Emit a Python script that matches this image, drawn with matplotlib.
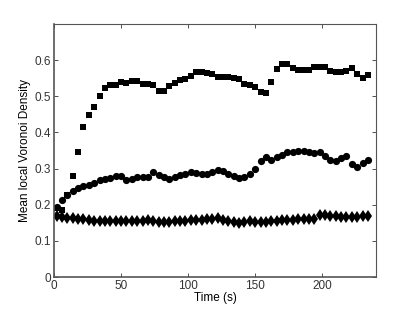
import numpy as np
import matplotlib
matplotlib.use("Agg")
import matplotlib.pyplot as plt

plt.rcParams['font.family'] = ['Liberation Sans', 'DejaVu Sans']

time_s = list(range(2, 235, 4))

squares = [0.190, 0.186, 0.228, 0.280, 0.346, 0.416, 0.448, 0.471, 0.501, 0.522,
           0.532, 0.532, 0.540, 0.537, 0.542, 0.541, 0.534, 0.534, 0.530, 0.514,
           0.516, 0.528, 0.538, 0.544, 0.547, 0.556, 0.568, 0.566, 0.565, 0.561,
           0.553, 0.553, 0.553, 0.550, 0.549, 0.533, 0.531, 0.526, 0.513, 0.510,
           0.540, 0.576, 0.589, 0.589, 0.578, 0.574, 0.573, 0.574, 0.581, 0.581,
           0.581, 0.569, 0.566, 0.566, 0.570, 0.577, 0.562, 0.550, 0.560]

circles = [0.193, 0.212, 0.228, 0.237, 0.247, 0.251, 0.256, 0.260, 0.268, 0.270,
           0.273, 0.280, 0.279, 0.268, 0.272, 0.276, 0.277, 0.277, 0.290, 0.283,
           0.276, 0.272, 0.276, 0.281, 0.286, 0.290, 0.288, 0.285, 0.285, 0.290,
           0.295, 0.293, 0.286, 0.280, 0.275, 0.278, 0.286, 0.299, 0.320, 0.332,
           0.325, 0.331, 0.339, 0.345, 0.347, 0.348, 0.348, 0.345, 0.342, 0.345,
           0.336, 0.325, 0.322, 0.330, 0.336, 0.314, 0.305, 0.316, 0.323]

diamonds = [0.168, 0.166, 0.164, 0.163, 0.161, 0.160, 0.158, 0.156, 0.155, 0.154,
            0.154, 0.155, 0.155, 0.155, 0.154, 0.154, 0.155, 0.157, 0.156, 0.153,
            0.152, 0.153, 0.154, 0.155, 0.156, 0.158, 0.158, 0.159, 0.160, 0.161,
            0.163, 0.158, 0.155, 0.152, 0.149, 0.153, 0.155, 0.152, 0.152, 0.153,
            0.154, 0.155, 0.157, 0.158, 0.159, 0.160, 0.161, 0.161, 0.161, 0.172,
            0.171, 0.169, 0.168, 0.167, 0.165, 0.165, 0.167, 0.168, 0.168]

x_ticks = [0, 50, 100, 150, 200]
y_ticks = [0, 0.1, 0.2, 0.3, 0.4, 0.5, 0.6]
y_ticklabels = ['0', '0.1', '0.2', '0.3', '0.4', '0.5', '0.6']

fig = plt.figure(figsize=(4.15, 3.12), dpi=100)
ax = fig.add_axes([0.130, 0.112, 0.776, 0.811])

ax.plot(time_s, squares, 's', color='black', markersize=4.6, markeredgewidth=0)
ax.plot(time_s, circles, 'o', color='black', markersize=5.2, markeredgewidth=0)
ax.plot(time_s, diamonds, 'd', color='black', markersize=6.0, markeredgewidth=0)

ax.set_xlim(0, 240)
ax.set_ylim(0, 0.7)
ax.set_xticks(x_ticks)
ax.set_yticks(y_ticks)
ax.set_yticklabels(y_ticklabels)
ax.tick_params(direction='in', top=True, right=True, length=3, width=0.6,
               labelsize=8.5, colors='#333333', pad=2)
for s in ax.spines.values():
    s.set_color('#555555')
    s.set_linewidth(0.8)
ax.spines['left'].set_linewidth(1.2)
ax.spines['bottom'].set_linewidth(1.2)

ax.set_xlabel('Time (s)', fontsize=8.5, labelpad=0)
ax.set_ylabel('Mean local Voronoi Density', fontsize=8.5, labelpad=3)

fig.savefig('out.png', dpi=100)
